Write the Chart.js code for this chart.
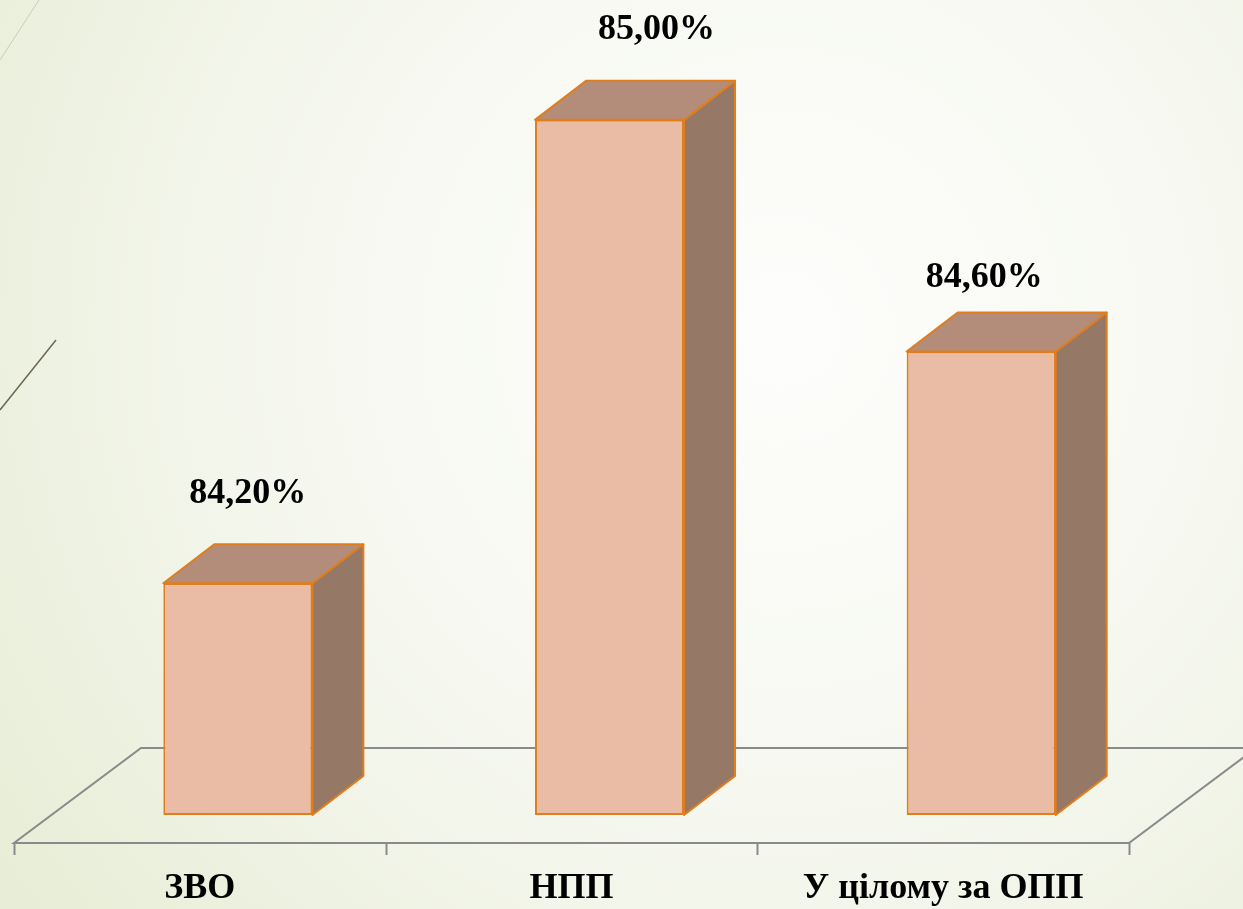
<!DOCTYPE html>
<html>
<head>
<meta charset="utf-8">
<script src="https://cdn.jsdelivr.net/npm/chart.js@4.4.1/dist/chart.umd.min.js"></script>
<style>
  html, body { margin: 0; padding: 0; }
  body { width: 1243px; height: 909px; overflow: hidden; }
  canvas { display: block; }
</style>
</head>
<body>
<canvas id="myChart" width="1243" height="909"></canvas>
<script>
var categories = ['ЗВО', 'НПП', 'У цілому за ОПП'];
var values = [84.2, 85.0, 84.6];
var valueLabels = ['84,20%', '85,00%', '84,60%'];
var axisMin = 83.8;
var axisMax = 85.2;

// 3d look: depth of bars and of the floor, in pixels
var barDepth = { dx: 51, dy: -39 };
var floorDepth = { dx: 127, dy: -95 };
var floorShift = { dx: -38, dy: 28 };
// hand placed value labels in the original slide
var labelNudge = [[10, -80], [47, -81], [3, -65]];

var bg = {
  id: 'bg',
  beforeDraw: function(chart) {
    var c = chart.ctx, w = chart.width, h = chart.height;
    c.save();
    var g = c.createRadialGradient(780, 330, 40, 780, 330, 1000);
    g.addColorStop(0, '#fdfdfb');
    g.addColorStop(0.45, '#f6f8f0');
    g.addColorStop(1, '#e6ecd4');
    c.fillStyle = g;
    c.fillRect(0, 0, w, h);
    // decorative strokes at the left edge
    c.lineWidth = 1;
    c.strokeStyle = '#c9cbbd';
    c.beginPath(); c.moveTo(0, 60); c.lineTo(39, 0); c.stroke();
    c.lineWidth = 1.5;
    c.strokeStyle = '#6e6653';
    c.beginPath(); c.moveTo(0, 410); c.lineTo(56, 340); c.stroke();
    c.restore();
  }
};

var floor3d = {
  id: 'floor3d',
  beforeDatasetsDraw: function(chart) {
    var c = chart.ctx, a = chart.chartArea, xs = chart.scales.x;
    var yF = a.bottom + floorShift.dy;
    var xL = a.left + floorShift.dx, xR = a.right + floorShift.dx;
    c.save();
    c.strokeStyle = '#8a8a8a';
    c.lineWidth = 2;
    c.beginPath();
    c.moveTo(xR + floorDepth.dx, yF + floorDepth.dy);
    c.lineTo(xL + floorDepth.dx, yF + floorDepth.dy);
    c.lineTo(xL, yF);
    c.lineTo(xR, yF);
    c.lineTo(xR + floorDepth.dx, yF + floorDepth.dy);
    c.stroke();
    var step = (xs.right - xs.left) / categories.length;
    for (var i = 0; i <= categories.length; i++) {
      var tx = Math.round(xL + i * step) + 0.5;
      c.beginPath(); c.moveTo(tx, yF); c.lineTo(tx, yF + 12); c.stroke();
    }
    c.restore();
  }
};

var bars3d = {
  id: 'bars3d',
  afterDatasetsDraw: function(chart) {
    var c = chart.ctx;
    var meta = chart.getDatasetMeta(0);
    c.save();
    c.lineWidth = 2;
    c.lineJoin = 'round';
    c.strokeStyle = '#e07e1e';
    meta.data.forEach(function(bar, i) {
      var l = bar.x - bar.width / 2, r = bar.x + bar.width / 2;
      var t = bar.y, b = bar.base;
      // side
      c.fillStyle = '#957866';
      c.beginPath();
      c.moveTo(r, t); c.lineTo(r + barDepth.dx, t + barDepth.dy);
      c.lineTo(r + barDepth.dx, b + barDepth.dy); c.lineTo(r, b);
      c.closePath(); c.fill(); c.stroke();
      // top
      c.fillStyle = '#b48c7a';
      c.beginPath();
      c.moveTo(l, t); c.lineTo(l + barDepth.dx, t + barDepth.dy);
      c.lineTo(r + barDepth.dx, t + barDepth.dy); c.lineTo(r, t);
      c.closePath(); c.fill(); c.stroke();
      // value label
      c.fillStyle = '#000';
      c.font = 'bold 36px "Liberation Serif", "Times New Roman", serif';
      c.textAlign = 'center';
      c.textBaseline = 'alphabetic';
      c.fillText(valueLabels[i], bar.x + labelNudge[i][0], t + labelNudge[i][1]);
    });
    c.restore();
  }
};

var ctx = document.getElementById('myChart');
var myChart = new Chart(ctx, {
  type: 'bar',
  data: {
    labels: categories,
    datasets: [{
      // bars stand on the floor of the value axis
      data: values.map(function(v) { return [axisMin, v]; }),
      backgroundColor: '#eabba5',
      borderColor: '#e07e1e',
      borderWidth: 2,
      borderSkipped: false,
      categoryPercentage: 1,
      barPercentage: 0.401
    }]
  },
  options: {
    responsive: false,
    animation: false,
    devicePixelRatio: 1,
    layout: { padding: { left: 52, right: 76, top: 4, bottom: 0 } },
    plugins: { legend: { display: false }, tooltip: { enabled: false } },
    scales: {
      x: {
        grid: { display: false },
        border: { display: false },
        afterFit: function(s) { s.height = 94; },
        ticks: {
          color: '#000',
          font: { family: '"Liberation Serif", "Times New Roman", serif', size: 36, weight: 'bold' },
          padding: 44,
          labelOffset: -38,
          maxRotation: 0,
          autoSkip: false
        }
      },
      y: {
        display: false,
        min: axisMin,
        max: axisMax
      }
    }
  },
  plugins: [bg, floor3d, bars3d]
});
</script>
</body>
</html>
